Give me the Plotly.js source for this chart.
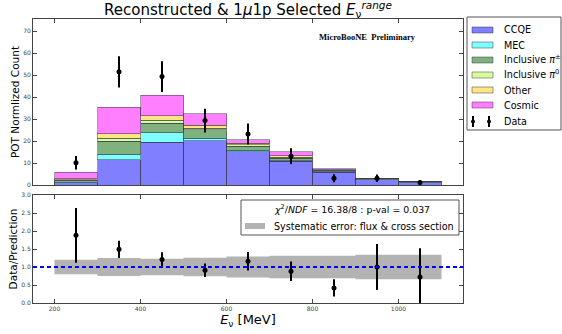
<!DOCTYPE html>
<html>
<head>
<meta charset="utf-8">
<script src="https://cdn.plot.ly/plotly-3.0.1.min.js"></script>
<style>html,body{margin:0;padding:0;background:#fff;}#chart{width:562px;height:334px;}</style>
</head>
<body>
<div id="chart"></div>
<script>
// ---- data ----
const binCenters = [250, 350, 450, 550, 650, 750, 850, 950, 1050];
const binEdges = [200, 300, 400, 500, 600, 700, 800, 900, 1000, 1100];
const categories = ["CCQE", "MEC", "Inclusive <i>π</i><sup>±</sup>", "Inclusive <i>π</i><sup>0</sup>", "Other", "Cosmic"];
const ccqe   = [1.0, 11.4, 19.4, 20.1, 15.1, 10.8, 5.8, 2.3, 1.1];
const mec    = [0.3, 2.5, 4.4, 1.1, 0.6, 0.3, 0.15, 0.05, 0.05];
const piPM   = [0.8, 6.1, 4.4, 4.0, 2.0, 1.1, 0.8, 0.45, 0.25];
const pi0    = [0.3, 1.2, 1.2, 0.6, 0.5, 0.5, 0.1, 0.05, 0.03];
const other  = [0.5, 2.0, 2.1, 1.4, 0.7, 0.6, 0.2, 0.05, 0.03];
const cosmic = [2.9, 12.1, 9.3, 5.3, 1.6, 1.8, 0.25, 0.05, 0.03];
const dataCounts = [10.1, 51.5, 49.3, 29.3, 23.2, 13.1, 3.1, 3.1, 1.1];
const dataErr    = [3.1, 7.1, 7.0, 5.4, 4.8, 3.6, 1.8, 1.7, 1.0];
const ratio      = [1.88, 1.49, 1.21, 0.91, 1.16, 0.88, 0.42, 1.0, 0.72];
const ratioErr   = [0.76, 0.24, 0.2, 0.19, 0.26, 0.27, 0.24, 0.64, 0.8];
const sysErr     = [0.2, 0.25, 0.23, 0.26, 0.29, 0.31, 0.31, 0.34, 0.34];
const topTicks = [0, 10, 20, 30, 40, 50, 60, 70];
const xTicks = [200, 400, 600, 800, 1000];
const chiText = "<i>χ</i><sup>2</sup>/<i>NDF</i> = 16.38/8 : p-val = 0.037";
const sysText = "Systematic error: flux &amp; cross section";

// ---- styles ----
const colors = ["#7f7fff", "#7fffff", "#7fb27f", "#d8fb9c", "#ffe680", "#ff7fff"];
const series = [ccqe, mec, piPM, pi0, other, cosmic];
const bandColor = "#b3b3b3";
const axisColor = "#444";
const legFont = 9.6;
const W = 562, H = 334, mL = 33, mR = 99, mT = 19, mB = 31;
const pw = W - mL - mR, ph = H - mT - mB;
const px = v => (v - mL) / pw;
const py = v => (H - mB - v) / ph;

const traces = [];
series.forEach((s, i) => {
  traces.push({
    type: "bar", x: binCenters, y: s, width: 100, name: categories[i],
    xaxis: "x", yaxis: "y",
    marker: {color: colors[i], line: {color: "rgba(40,40,60,0.45)", width: 1}},
    hoverinfo: "skip"
  });
});
traces.push({
  type: "scatter", mode: "markers", x: binCenters, y: dataCounts, name: "Data",
  xaxis: "x", yaxis: "y",
  marker: {color: "black", size: 5},
  error_y: {type: "data", array: dataErr, color: "black", thickness: 2, width: 0},
  hoverinfo: "skip"
});
// systematic band (stepped)
const bandLo = binEdges.map((e, i) => 1 - sysErr[Math.min(i, sysErr.length - 1)]);
const bandHi = binEdges.map((e, i) => 1 + sysErr[Math.min(i, sysErr.length - 1)]);
traces.push({type: "scatter", mode: "lines", x: binEdges, y: bandLo, xaxis: "x2", yaxis: "y2",
  line: {shape: "hv", width: 0, color: bandColor}, hoverinfo: "skip"});
traces.push({type: "scatter", mode: "lines", x: binEdges, y: bandHi, xaxis: "x2", yaxis: "y2",
  line: {shape: "hv", width: 0, color: bandColor}, fill: "tonexty", fillcolor: bandColor, hoverinfo: "skip"});
traces.push({
  type: "scatter", mode: "markers", x: binCenters, y: ratio, xaxis: "x2", yaxis: "y2",
  marker: {color: "black", size: 5},
  error_y: {type: "data", array: ratioErr, color: "black", thickness: 2, width: 0},
  hoverinfo: "skip"
});

const tickFont = {family: "DejaVu Sans", size: 6, color: "#444"};
const axBase = {showline: true, linecolor: axisColor, linewidth: 1, mirror: "ticks", ticks: "inside",
  ticklen: 4, tickcolor: axisColor, showgrid: false, zeroline: false, tickfont: tickFont};

const shapes = [
  {type: "line", xref: "paper", yref: "y2", x0: 0, x1: 1, y0: 1, y1: 1,
   line: {color: "#0000ff", width: 2, dash: "4px,3px"}},
  // top legend box
  {type: "rect", xref: "paper", yref: "paper", x0: px(467), x1: px(561), y0: py(17), y1: py(130),
   line: {color: "#555", width: 1}, fillcolor: "rgba(255,255,255,0)"},
  // bottom legend box
  {type: "rect", xref: "paper", yref: "paper", x0: px(241), x1: px(459), y0: py(200), y1: py(235),
   line: {color: "#555", width: 1}, fillcolor: "rgba(255,255,255,0)"},
  {type: "rect", xref: "paper", yref: "paper", x0: px(245), x1: px(265), y0: py(223), y1: py(229),
   line: {width: 0}, fillcolor: bandColor}
];
const annotations = [
  {xref: "paper", yref: "paper", x: px(367), y: py(37), xanchor: "center", yanchor: "middle",
   text: "<b>MicroBooNE  Preliminary</b>",
   showarrow: false, font: {family: "Liberation Serif", size: 8.5, color: "black"}},
  {xref: "paper", yref: "paper", x: px(272), y: py(209), xanchor: "left", yanchor: "middle", text: chiText,
   showarrow: false, font: {size: 9.4, color: "black"}},
  {xref: "paper", yref: "paper", x: px(272), y: py(226), xanchor: "left", yanchor: "middle", text: sysText,
   showarrow: false, font: {size: legFont, color: "black"}}
];
const rowY = [30, 45, 60, 75, 90, 105];
categories.forEach((c, i) => {
  shapes.push({type: "rect", xref: "paper", yref: "paper", x0: px(472), x1: px(493),
    y0: py(rowY[i] - 3), y1: py(rowY[i] + 3), fillcolor: colors[i], line: {color: "rgba(40,40,60,0.45)", width: 1}});
  annotations.push({xref: "paper", yref: "paper", x: px(502), y: py(rowY[i] + (i === 2 || i === 3 ? -1 : 0)),
    xanchor: "left", yanchor: "middle",
    text: c, showarrow: false, font: {size: legFont, color: "black"}});
});
[473, 489].forEach(gx => {
  shapes.push({type: "line", xref: "paper", yref: "paper", x0: px(gx), x1: px(gx), y0: py(116), y1: py(127),
    line: {color: "black", width: 2}});
  shapes.push({type: "circle", xref: "paper", yref: "paper", x0: px(gx - 2), x1: px(gx + 2), y0: py(119.5), y1: py(123.5),
    fillcolor: "black", line: {width: 0}});
});
annotations.push({xref: "paper", yref: "paper", x: px(502), y: py(121.5), xanchor: "left", yanchor: "middle",
  text: "Data", showarrow: false, font: {size: legFont, color: "black"}});

const layout = {
  width: W, height: H,
  margin: {l: mL, r: mR, t: mT, b: mB, pad: 0},
  paper_bgcolor: "white", plot_bgcolor: "white",
  font: {family: "DejaVu Sans", color: "black"},
  showlegend: false, barmode: "stack", bargap: 0,
  title: {text: "Reconstructed &amp; 1<i>μ</i>1p Selected <i>E</i><sub>ν</sub><sup><i>range</i></sup>",
    xref: "paper", x: 0.5, xanchor: "center", yref: "container", y: 1 - 10 / H, yanchor: "middle",
    font: {family: "DejaVu Sans", size: 15, color: "black"}},
  xaxis: Object.assign({}, axBase, {domain: [0, 1], anchor: "y", range: [150, 1150], tickvals: xTicks, showticklabels: false}),
  yaxis: Object.assign({}, axBase, {domain: [1 - 166 / ph, 1], anchor: "x", range: [0, 75.5], tickvals: topTicks,
    title: {text: "POT Normlized Count", standoff: 1, font: {size: 10.5, color: "black"}}}),
  xaxis2: Object.assign({}, axBase, {domain: [0, 1], anchor: "y2", range: [150, 1150], tickvals: xTicks,
    title: {text: "<i>E</i><sub>ν</sub> [MeV]", standoff: 2, font: {size: 13, color: "black"}}}),
  yaxis2: Object.assign({}, axBase, {domain: [0, 1 - 176 / ph], anchor: "x2", range: [0, 3], dtick: 0.5, tick0: 0, tickformat: ".1f",
    title: {text: "Data/Prediction", standoff: 1, font: {size: 10.5, color: "black"}}}),
  shapes: shapes, annotations: annotations
};
Plotly.newPlot("chart", traces, layout, {staticPlot: true, displayModeBar: false});
</script>
</body>
</html>
